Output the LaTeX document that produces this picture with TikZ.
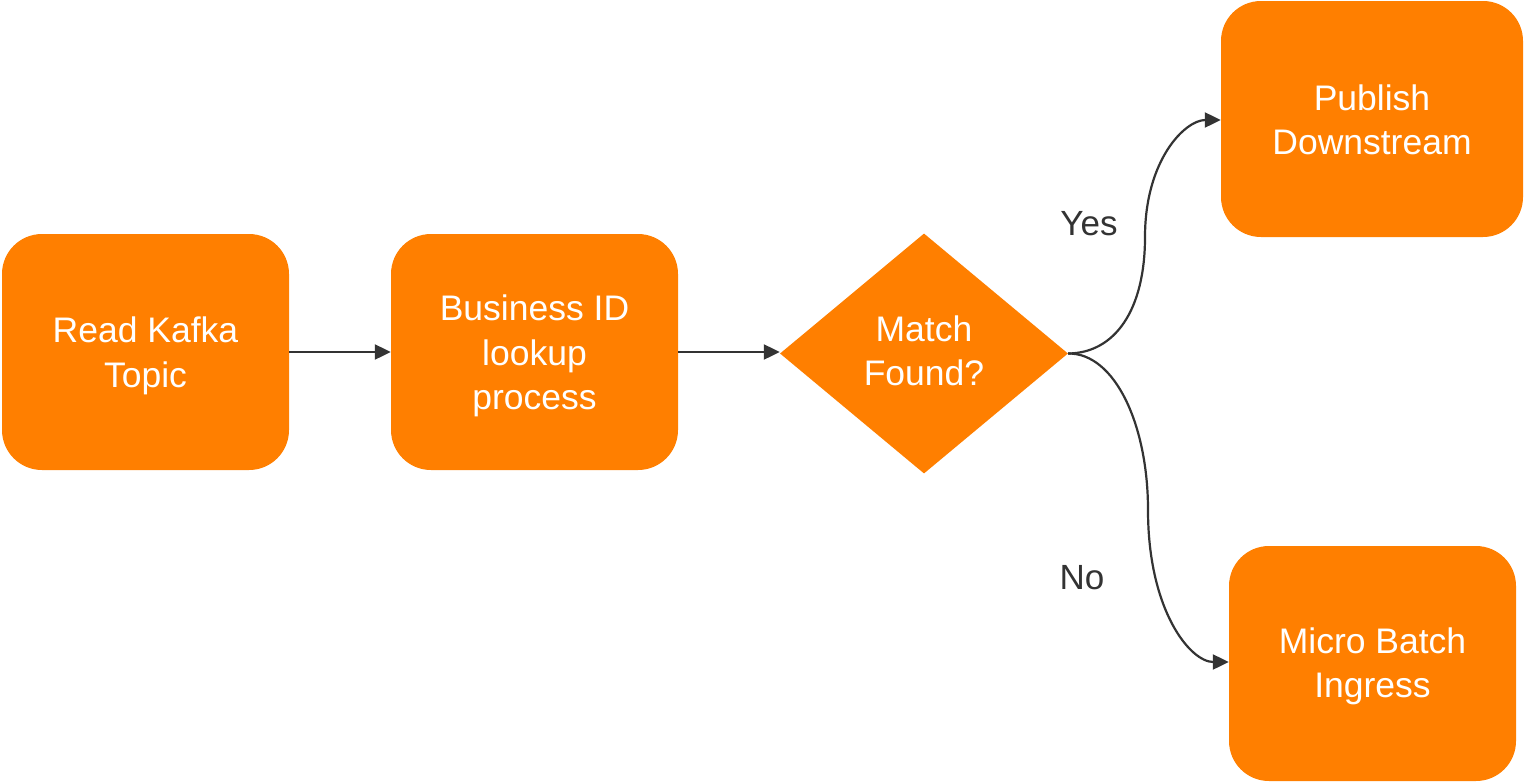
\documentclass[tikz,border=0pt]{standalone}
\usepackage{fontspec}
\setmainfont{Liberation Sans}
\usetikzlibrary{shapes.geometric,arrows.meta}
\definecolor{boxorange}{HTML}{FF7F00}
\definecolor{linegray}{HTML}{333333}
\tikzset{
  stepbox/.style={fill=boxorange, draw=none, rounded corners=40pt, text=white,
    align=center, inner sep=0pt, font=\fontsize{35.5}{44.5}\selectfont},
  decision/.style={diamond, fill=boxorange, draw=none, text=white, align=center,
    inner sep=0pt, minimum width=288pt, minimum height=240pt,
    font=\fontsize{35.5}{42}\selectfont},
  flow/.style={draw=linegray, line width=2.2pt, -{Triangle[length=16pt,width=15pt]}},
  answer/.style={text=linegray, font=\fontsize{35}{40}\selectfont, inner sep=0pt}
}
\begin{document}
\begin{tikzpicture}[x=1pt,y=-1pt]
  \useasboundingbox (0,0) rectangle (1524,782);

  % process boxes
  \node[stepbox, minimum width=287pt, minimum height=236pt] (read) at (145.5,352) {};
  \node[stepbox, minimum width=287pt, minimum height=236pt] (lookup) at (534.5,352) {};
  \node[decision] (match) at (924,353.5) {};
  \node[stepbox, minimum width=302pt, minimum height=236pt] (publish) at (1372,119) {};
  \node[stepbox, minimum width=287pt, minimum height=235pt] (ingress) at (1372.5,663.5) {};

  % box captions
  \node[stepbox, fill=none] (readtxt) at (145.5,356) {Read Kafka\\Topic};
  \node[stepbox, fill=none] (lookuptxt) at (534.5,356) {Business ID\\lookup\\process};
  \node[stepbox, fill=none] (matchtxt) at (924,351) {Match\\Found?};
  \node[stepbox, fill=none] (publishtxt) at (1372,120) {Publish\\Downstream};
  \node[stepbox, fill=none] (ingresstxt) at (1372.5,666.5) {Micro Batch\\Ingress};

  % branch end points on the target boxes
  \coordinate (pubin) at (publish.west |- 0,120);
  \coordinate (ingin) at (ingress.west |- 0,662);

  % straight connectors
  \draw[flow] (read.east) -- (lookup.west);
  \draw[flow] (lookup.east) -- (lookup.east -| match.west);

  % curved branches
  \draw[flow] (match.east) .. controls (1115,353) and (1145,310) .. (1145,237)
              .. controls (1145,160) and (1185,120) .. (pubin);
  \draw[flow] (match.east) .. controls (1115,353) and (1148,425) .. (1148,510)
              .. controls (1148,610) and (1190,662) .. (ingin);

  % branch labels
  \node[answer] (yes) at (1089,224) {Yes};
  \node[answer] (no) at (1082,578) {No};
\end{tikzpicture}
\end{document}
